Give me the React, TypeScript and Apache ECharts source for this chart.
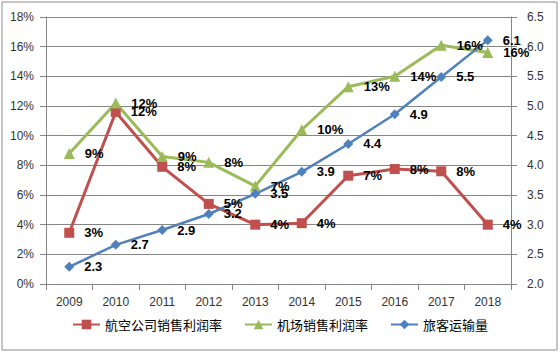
import React, { useEffect, useRef } from "react";
import * as echarts from "echarts";

const years = ["2009", "2010", "2011", "2012", "2013", "2014", "2015", "2016", "2017", "2018"];
const airlineMargin = [3.45, 11.6, 7.9, 5.4, 4.0, 4.1, 7.3, 7.75, 7.6, 4.0];
const airportMargin = [8.8, 12.2, 8.6, 8.2, 6.6, 10.4, 13.3, 14.0, 16.1, 15.6];
const passengers = [2.29, 2.66, 2.91, 3.18, 3.52, 3.89, 4.36, 4.86, 5.49, 6.11];
const seriesNames = ["航空公司销售利润率", "机场销售利润率", "旅客运输量"];

const RED = "#C0504D";
const GREEN = "#9BBB59";
const BLUE = "#4F81BD";
const AXIS = "#868686";
const FONT = "Liberation Sans, Arial, sans-serif";

export default function App() {
  const ref = useRef<HTMLDivElement>(null);
  useEffect(() => {
    document.body.style.margin = "0";
    const chart = echarts.init(ref.current!, null, { renderer: "svg" });
    const pctLabel = {
      show: true,
      position: "right" as const,
      distance: 10,
      fontSize: 13,
      fontWeight: "bold" as const,
      fontFamily: FONT,
      color: "#000",
      formatter: (p: any) => Math.round(p.value) + "%",
    };
    chart.setOption({
      animation: false,
      backgroundColor: "#fff",
      textStyle: { fontFamily: FONT },
      graphic: [
        {
          type: "rect",
          shape: { x: 2, y: 2, width: 555, height: 348 },
          style: { fill: "none", stroke: "#8c8c8c", lineWidth: 1 },
          silent: true,
        },
      ],
      grid: { left: 46, right: 49, top: 17, bottom: 70, containLabel: false },
      legend: {
        bottom: 18,
        left: "center",
        itemWidth: 27,
        itemHeight: 12,
        itemGap: 22,
        textStyle: { fontSize: 13, color: "#000", fontFamily: "Noto Sans CJK SC, sans-serif" },
        data: seriesNames,
      },
      xAxis: {
        type: "category",
        data: years,
        boundaryGap: true,
        axisLine: { lineStyle: { color: AXIS } },
        axisTick: { show: true, length: 6, lineStyle: { color: AXIS } },
        axisLabel: { fontSize: 12, color: "#333", margin: 12 },
      },
      yAxis: [
        {
          type: "value",
          min: 0,
          max: 18,
          interval: 2,
          axisLine: { show: true, lineStyle: { color: AXIS } },
          axisTick: { show: true, length: 6, lineStyle: { color: AXIS } },
          axisLabel: { fontSize: 12, color: "#333", margin: 12, formatter: "{value}%" },
          splitLine: { show: true, lineStyle: { color: AXIS, width: 1 } },
        },
        {
          type: "value",
          min: 2,
          max: 6.5,
          interval: 0.5,
          position: "right",
          axisLine: { show: true, lineStyle: { color: AXIS } },
          axisTick: { show: true, length: 6, lineStyle: { color: AXIS } },
          axisLabel: {
            fontSize: 12,
            color: "#333",
            margin: 16,
            formatter: (v: number) => v.toFixed(1),
          },
          splitLine: { show: false },
        },
      ],
      series: [
        {
          name: seriesNames[0],
          type: "line",
          yAxisIndex: 0,
          data: airlineMargin,
          symbol: "rect",
          symbolSize: 10,
          itemStyle: { color: RED },
          lineStyle: { color: RED, width: 3 },
          label: pctLabel,
        },
        {
          name: seriesNames[1],
          type: "line",
          yAxisIndex: 0,
          data: airportMargin,
          symbol: "triangle",
          symbolSize: 11,
          itemStyle: { color: GREEN },
          lineStyle: { color: GREEN, width: 3 },
          label: pctLabel,
        },
        {
          name: seriesNames[2],
          type: "line",
          yAxisIndex: 1,
          data: passengers,
          symbol: "diamond",
          symbolSize: 10,
          itemStyle: { color: BLUE },
          lineStyle: { color: BLUE, width: 2.5 },
          label: {
            ...pctLabel,
            formatter: (p: any) => Number(p.value).toFixed(1),
          },
        },
      ],
    });
    return () => chart.dispose();
  }, []);
  return <div ref={ref} style={{ width: 560, height: 354 }} />;
}
